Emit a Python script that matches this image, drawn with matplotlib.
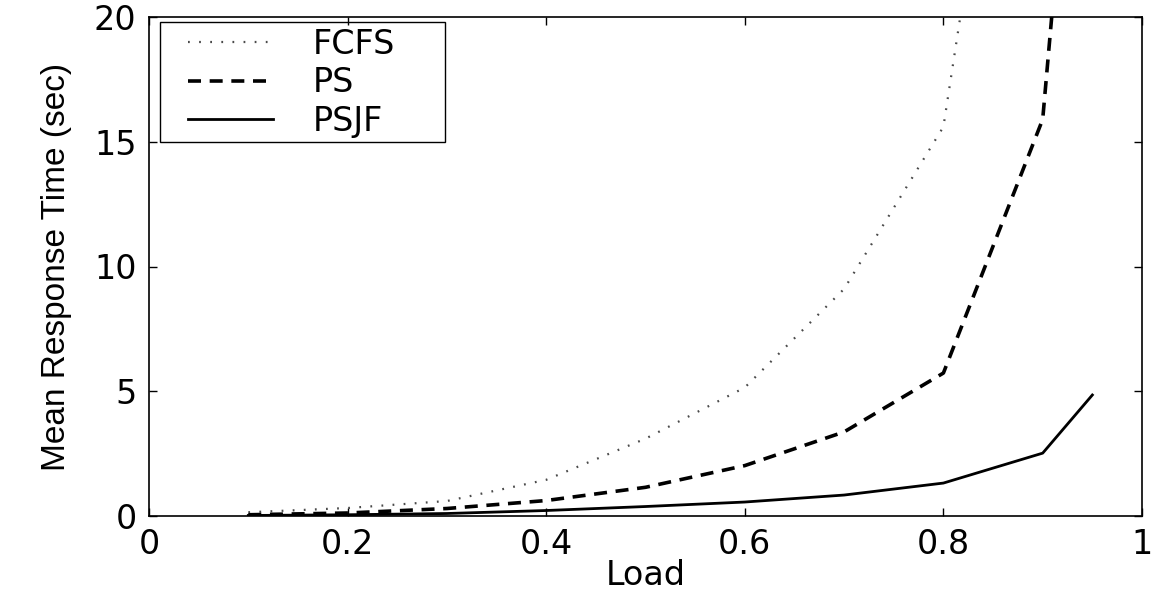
import matplotlib
matplotlib.use("Agg")
import matplotlib.pyplot as plt
from matplotlib.patches import Rectangle

# values (points above 20 are clipped by the axes)
load = [0.1, 0.2, 0.3, 0.4, 0.5, 0.6, 0.7, 0.8, 0.9, 0.95]
fcfs_load = [0.1, 0.2, 0.3, 0.4, 0.5, 0.6, 0.7, 0.8, 0.9]
fcfs = [0.15, 0.32, 0.6, 1.45, 3.1, 5.15, 9.1, 15.6, 41.5]
ps = [0.05, 0.12, 0.3, 0.62, 1.15, 2.02, 3.37, 5.73, 15.9, 38.5]
psjf = [0.02, 0.05, 0.1, 0.22, 0.38, 0.56, 0.84, 1.32, 2.52, 4.85]

x_ticks = [0, 0.2, 0.4, 0.6, 0.8, 1]
x_tick_labels = ["0", "0.2", "0.4", "0.6", "0.8", "1"]
y_ticks = [0, 5, 10, 15, 20]
y_tick_labels = ["0", "5", "10", "15", "20"]

W, H = 1166, 590
plt.rcParams["font.family"] = ["DejaVu Sans"]

fig = plt.figure(figsize=(W / 100, H / 100), dpi=100)
ax = fig.add_axes([149 / W, 1 - 516 / H, (1142 - 149) / W, (516 - 17) / H])

ax.plot(fcfs_load, fcfs, color="#4a4a4a", linestyle=(0, (0.8, 4.2)), linewidth=1.6, label="FCFS")
ax.plot(load, ps, color="black", linestyle=(0, (3.6, 2.4)), linewidth=2.6, label="PS")
ax.plot(load, psjf, color="black", linestyle="-", linewidth=2.0, label="PSJF")

ax.set_xlim(0, 1)
ax.set_ylim(0, 20)
ax.set_xticks(x_ticks)
ax.set_xticklabels(x_tick_labels)
ax.set_yticks(y_ticks)
ax.set_yticklabels(y_tick_labels)
ax.tick_params(direction="in", length=6, width=1, top=True, right=True,
               labelsize=24, pad=9)
for spine in ax.spines.values():
    spine.set_linewidth(1.2)

ax.set_xlabel("Load", fontsize=24, labelpad=-2)
ax.set_ylabel("Mean Response Time (sec)", fontsize=24, labelpad=16,
              family=["Liberation Sans", "DejaVu Sans"])

# legend without its own frame; the box is drawn separately to get the wide padding
leg = ax.legend(loc="upper left", bbox_to_anchor=(188 / W, 1 - 28 / H),
                bbox_transform=fig.transFigure, fontsize=24, frameon=False,
                handlelength=2.55, handletextpad=1.2, borderpad=0,
                labelspacing=0.16, borderaxespad=0)
box = Rectangle((160 / W, 1 - 142 / H), (445 - 160) / W, (142 - 22) / H,
                transform=fig.transFigure, facecolor="none", edgecolor="black",
                linewidth=1.0, zorder=5)
fig.add_artist(box)

fig.savefig("out.png", dpi=100)
plt.close(fig)
